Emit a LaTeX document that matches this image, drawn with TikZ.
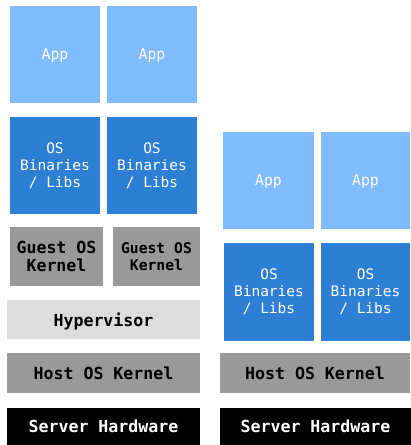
\documentclass[tikz,border=0pt]{standalone}
\usepackage{fontspec}
\setmonofont{DejaVu Sans Mono}
\definecolor{applight}{HTML}{7FBCFF}
\definecolor{osblue}{HTML}{2D7FD3}
\definecolor{kgray}{HTML}{999999}
\definecolor{hypgray}{HTML}{DDDDDD}
\tikzset{
  blk/.style={inner sep=0pt, outer sep=0pt, align=center, font=\ttfamily},
  appbox/.style={blk, fill=applight, text=white, text depth=0pt, font=\ttfamily\fontsize{14.8}{17}\selectfont},
  osbox/.style={blk, fill=osblue, text=white, font=\ttfamily\fontsize{14.5}{17}\selectfont},
  kbox/.style={blk, fill=kgray, text=black, font=\ttfamily\bfseries\fontsize{16.6}{18}\selectfont},
  hypbox/.style={blk, fill=hypgray, text=black, text depth=0pt, font=\ttfamily\bfseries\fontsize{16.6}{18}\selectfont},
  hwbox/.style={blk, fill=black, text=white, font=\ttfamily\bfseries\fontsize{16.6}{18}\selectfont},
  sz/.style 2 args={minimum width=#1pt, minimum height=#2pt}
}
\begin{document}
\begin{tikzpicture}[x=1pt,y=-1pt]
\useasboundingbox (0,0) rectangle (411,445);
% VM stack
\node[appbox, sz={90}{97}] (a1) at (55,54.5) {App};
\node[appbox, sz={90}{97}] (a2) at (152,54.5) {App};
\node[osbox, sz={90}{97}] (o1) at (55,165.5) {OS\\Binaries\\/ Libs};
\node[osbox, sz={90}{97}] (o2) at (152,165.5) {OS\\Binaries\\/ Libs};
\node[kbox, sz={93}{59}] (g1) at (56.5,256.5) {Guest OS\\Kernel};
\node[kbox, sz={87}{59}, font=\ttfamily\bfseries\fontsize{14.7}{16.7}\selectfont] (g2) at (156.5,256.5) {Guest OS\\Kernel};
\node[hypbox, sz={193}{39}] (hyp) at (103.5,319.5) {Hypervisor};
\node[kbox, sz={193}{40}] (hk1) at (103.5,373) {Host OS Kernel};
\node[hwbox, sz={193}{38}] (hw1) at (103.5,426.5) {Server Hardware};
% Container stack
\node[appbox, sz={91}{97}] (a3) at (268.5,180.5) {App};
\node[appbox, sz={89}{97}] (a4) at (365.5,180.5) {App};
\node[osbox, sz={90}{98}] (o3) at (269,292) {OS\\Binaries\\/ Libs};
\node[osbox, sz={89}{98}] (o4) at (365.5,292) {OS\\Binaries\\/ Libs};
\node[kbox, sz={190}{40}] (hk2) at (315,373) {Host OS Kernel};
\node[hwbox, sz={191}{38}] (hw2) at (315.5,426.5) {Server Hardware};
\end{tikzpicture}
\end{document}
